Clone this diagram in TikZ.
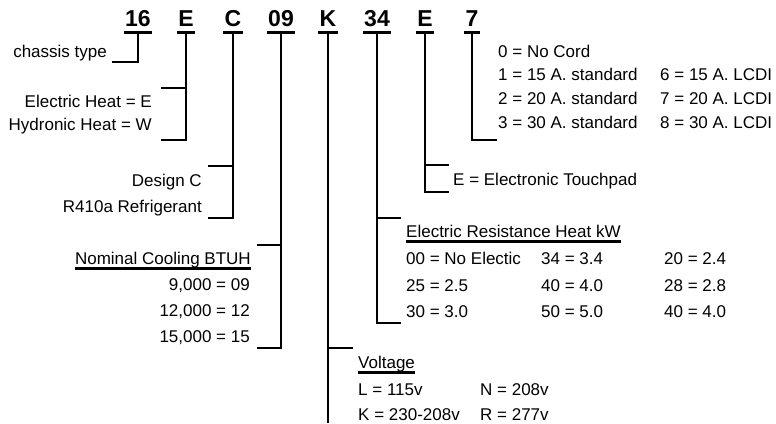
\documentclass[tikz,border=0pt]{standalone}
\usepackage{fontspec}
\setmainfont{Liberation Sans}
\begin{document}
\begin{tikzpicture}[x=1pt,y=-1pt,
  code/.style={font=\fontsize{23}{23}\selectfont\bfseries, anchor=base, inner xsep=1pt, inner ysep=5pt},
  lbl/.style={font=\fontsize{17}{19}\selectfont, inner sep=0pt, anchor=base east},
  lblw/.style={font=\fontsize{17}{19}\selectfont, inner sep=0pt, anchor=base west},
  conn/.style={line width=2.6pt, line join=miter},
  uline/.style={line width=3pt}]
\useasboundingbox (0,0) rectangle (776,423);

% code characters
\node[code] (c1) at (138,27) {16};
\node[code] (c2) at (186,27) {E};
\node[code] (c3) at (233,27) {C};
\node[code] (c4) at (281,27) {09};
\node[code] (c5) at (328,27) {K};
\node[code] (c6) at (377,27) {34};
\node[code] (c7) at (425,27) {E};
\node[code] (c8) at (472,27) {7};
\foreach \n in {c1,c2,c3,c4,c5,c6,c7,c8}
  \draw[uline] (\n.south west) -- (\n.south east);

% bracket ends
\coordinate (ch) at (112,62);
\coordinate (e1) at (161,88);
\coordinate (e2) at (161,140);
\coordinate (d1) at (208,166);
\coordinate (d2) at (208,218);
\coordinate (n1) at (257,245);
\coordinate (n2) at (257,348);
\coordinate (v1) at (353,348);
\coordinate (vend) at (328,423);
\coordinate (r1) at (401,218);
\coordinate (r2) at (401,323);
\coordinate (t1) at (449,165);
\coordinate (t2) at (449,192);
\coordinate (p1) at (497,140);

% connectors
\draw[conn] (c1.south) |- (ch);
\draw[conn] (c2.south) |- (e2);
\draw[conn] (c2.south |- e1) -- (e1);
\draw[conn] (c3.south) |- (d2);
\draw[conn] (c3.south |- d1) -- (d1);
\draw[conn] (c4.south) |- (n2);
\draw[conn] (c4.south |- n1) -- (n1);
\draw[conn] (c5.south) -- (c5.south |- vend);
\draw[conn] (c5.south |- v1) -- (v1);
\draw[conn] (c6.south) |- (r2);
\draw[conn] (c6.south |- r1) -- (r1);
\draw[conn] (c7.south) |- (t2);
\draw[conn] (c7.south |- t1) -- (t1);
\draw[conn] (c8.south) |- (p1);

% labels: chassis
\node[lbl] (chassis) at (107,57) {chassis type};
% heat
\node[lbl] (heatE) at (152,107) {Electric Heat = E};
\node[lbl] (heatW) at (152,130) {Hydronic Heat = W};
% design
\node[lbl] (design) at (202,186) {Design C};
\node[lbl] (refr) at (202,212) {R410a Refrigerant};
% cooling
\node[lbl] (nom) at (251,264) {Nominal Cooling BTUH};
\draw[uline] ([yshift=-4pt]nom.base west) -- ([yshift=-4pt]nom.base east);
\node[lbl] (nom1) at (250,290) {9,000 = 09};
\node[lbl] (nom2) at (250,316) {12,000 = 12};
\node[lbl] (nom3) at (250,342) {15,000 = 15};
% voltage
\node[lblw] (volt) at (358,368) {Voltage};
\draw[uline] ([yshift=-4pt]volt.base west) -- ([yshift=-4pt]volt.base east);
\node[lblw] (vL) at (358,395) {L = 115v};
\node[lblw] (vN) at (480,395) {N = 208v};
\node[lblw] (vK) at (358,420) {K = 230-208v};
\node[lblw] (vR) at (480,420) {R = 277v};
% electric resistance heat
\node[lblw] (erh) at (406,237) {Electric Resistance Heat kW};
\draw[uline] ([yshift=-4pt]erh.base west) -- ([yshift=-4pt]erh.base east);
\node[lblw] (h11) at (406,264) {00 = No Electic};
\node[lblw] (h12) at (541,264) {34 = 3.4};
\node[lblw] (h13) at (664,264) {20 = 2.4};
\node[lblw] (h21) at (406,291) {25 = 2.5};
\node[lblw] (h22) at (541,291) {40 = 4.0};
\node[lblw] (h23) at (664,291) {28 = 2.8};
\node[lblw] (h31) at (406,317) {30 = 3.0};
\node[lblw] (h32) at (541,317) {50 = 5.0};
\node[lblw] (h33) at (664,317) {40 = 4.0};
% touchpad
\node[lblw] (touch) at (453,185) {E = Electronic Touchpad};
% cord
\node[lblw] (cord0) at (498,57) {0 = No Cord};
\node[lblw] (cord1) at (498,80) {1 = 15 A. standard};
\node[lblw] (cord2) at (498,104) {2 = 20 A. standard};
\node[lblw] (cord3) at (498,128) {3 = 30 A. standard};
\node[lblw] (cord6) at (660,80) {6 = 15 A. LCDI};
\node[lblw] (cord7) at (660,104) {7 = 20 A. LCDI};
\node[lblw] (cord8) at (660,128) {8 = 30 A. LCDI};
\end{tikzpicture}
\end{document}
